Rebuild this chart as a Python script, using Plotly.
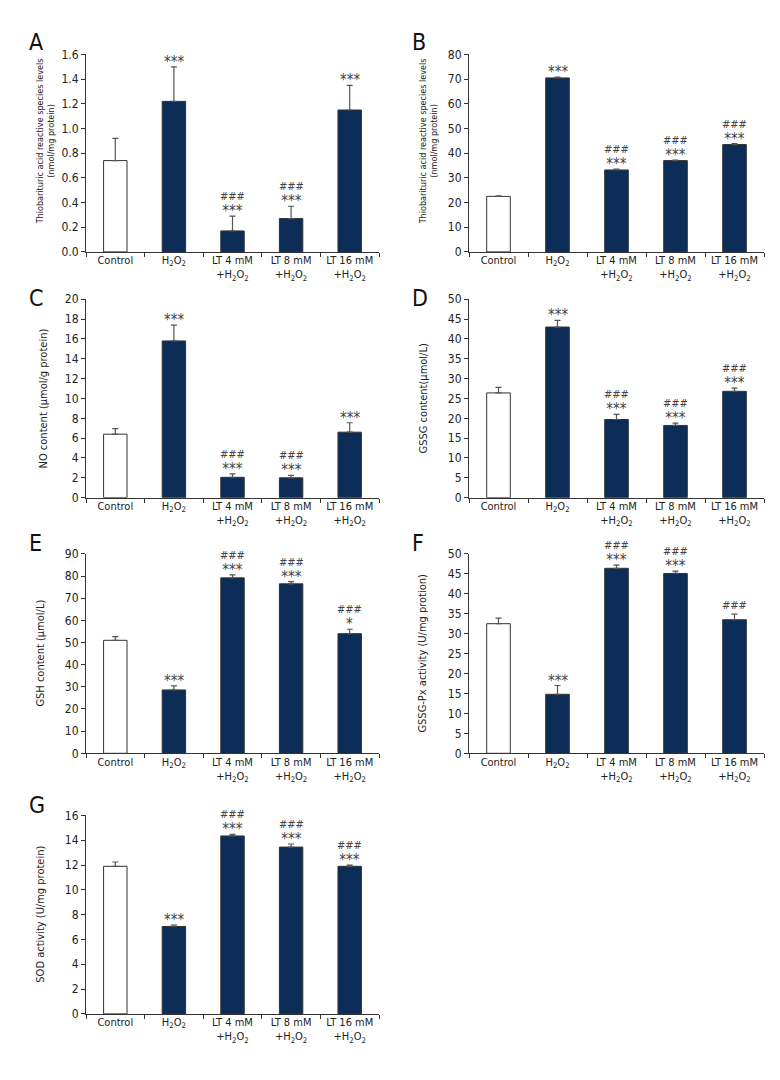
import plotly.graph_objects as go

# groups on the x axis
groups = ["Control", "H<sub>2</sub>O<sub>2</sub>", "LT 4 mM<br>+H<sub>2</sub>O<sub>2</sub>",
          "LT 8 mM<br>+H<sub>2</sub>O<sub>2</sub>", "LT 16 mM<br>+H<sub>2</sub>O<sub>2</sub>"]

# panel A - TBARS (nmol/mg protein)
tbars_a = [0.74, 1.22, 0.17, 0.27, 1.15]
tbars_a_err = [0.18, 0.28, 0.12, 0.10, 0.20]
tbars_a_star = ["", "***", "***", "***", "***"]
tbars_a_hash = ["", "", "###", "###", ""]

# panel B - TBARS second set
tbars_b = [22.5, 70.5, 33.2, 37.0, 43.5]
tbars_b_err = [0.2, 0.3, 0.3, 0.2, 0.4]
tbars_b_star = ["", "***", "***", "***", "***"]
tbars_b_hash = ["", "", "###", "###", "###"]

# panel C - NO content
no_val = [6.4, 15.8, 2.05, 2.0, 6.6]
no_err = [0.55, 1.6, 0.35, 0.25, 0.95]
no_star = ["", "***", "***", "***", "***"]
no_hash = ["", "", "###", "###", ""]

# panel D - GSSG content
gssg = [26.4, 43.0, 19.7, 18.2, 26.8]
gssg_err = [1.4, 1.7, 1.3, 0.6, 0.8]
gssg_star = ["", "***", "***", "***", "***"]
gssg_hash = ["", "", "###", "###", "###"]

# panel E - GSH content
gsh = [51.0, 28.6, 79.2, 76.5, 54.0]
gsh_err = [1.7, 1.8, 1.3, 1.0, 2.0]
gsh_star = ["", "***", "***", "***", "*"]
gsh_hash = ["", "", "###", "###", "###"]

# panel F - GSSG-Px activity
gpx = [32.5, 14.8, 46.4, 45.1, 33.5]
gpx_err = [1.4, 2.2, 0.8, 0.6, 1.4]
gpx_star = ["", "***", "***", "***", ""]
gpx_hash = ["", "", "###", "###", "###"]

# panel G - SOD activity
sod = [11.9, 7.05, 14.35, 13.45, 11.9]
sod_err = [0.35, 0.12, 0.12, 0.25, 0.1]
sod_star = ["", "***", "***", "***", "***"]
sod_hash = ["", "", "###", "###", "###"]

tbars_title = "Thiobarituric acid reactive species levels<br>(nmol/mg protein)"
panels = [
    ("A", tbars_a, tbars_a_err, tbars_a_star, tbars_a_hash, 1.6, 0.2, ".1f", tbars_title),
    ("B", tbars_b, tbars_b_err, tbars_b_star, tbars_b_hash, 80, 10, "d", tbars_title),
    ("C", no_val, no_err, no_star, no_hash, 20, 2, "d", "NO content (µmol/g protein)"),
    ("D", gssg, gssg_err, gssg_star, gssg_hash, 50, 5, "d", "GSSG content(µmol/L)"),
    ("E", gsh, gsh_err, gsh_star, gsh_hash, 90, 10, "d", "GSH content (µmol/L)"),
    ("F", gpx, gpx_err, gpx_star, gpx_hash, 50, 5, "d", "GSSG-Px activity (U/mg protion)"),
    ("G", sod, sod_err, sod_star, sod_hash, 16, 2, "d", "SOD activity (U/mg protein)"),
]

W, H = 780, 1080
# plot-area pixel boxes (left, right, top, bottom)
col_x = [(78, 371), (461, 756)]
row_y = [(40, 240), (288, 489), (546, 748), (811, 1012)]
letter_y = [27, 287, 535, 800]
letter_x = [19, 402]
title_x = [[38, 421], [35, 415], [33, 415], [33, 415]]

NAVY = "#0b2d57"
FONT = "DejaVu Sans Condensed, Liberation Sans Narrow, Roboto, sans-serif"
STAR = "<span style='font-size:15px'>{}</span>"
HASH = "<span style='font-size:11px'>{}</span>"

fig = go.Figure()
layout = {}
annotations = []

for i, (letter, vals, errs, stars, hashes, ymax, dtick, fmt, ytitle) in enumerate(panels):
    r, c = divmod(i, 2)
    n = i + 1
    xa = "x" if n == 1 else f"x{n}"
    ya = "y" if n == 1 else f"y{n}"
    x0, x1 = col_x[c]
    top, bot = row_y[r]

    colors = ["white"] + [NAVY] * 4
    fig.add_trace(go.Bar(
        x=groups, y=vals, xaxis=xa, yaxis=ya, width=0.4,
        marker=dict(color=colors, line=dict(color="#333333", width=1)),
        error_y=dict(type="data", array=errs, arrayminus=[0] * 5, symmetric=False,
                     color="#555555", thickness=1.2, width=3),
        showlegend=False,
    ))

    layout["xaxis" if n == 1 else f"xaxis{n}"] = dict(
        domain=[x0 / W, x1 / W], anchor=ya, type="category",
        range=[-0.5, 4.5], tickson="boundaries", ticks="outside", ticklen=4,
        tickcolor="#333", showline=True, linecolor="#333", linewidth=1,
        showgrid=False, tickangle=0, ticklabelstandoff=-2,
        tickfont=dict(size=11, color="#222"),
    )
    layout["yaxis" if n == 1 else f"yaxis{n}"] = dict(
        domain=[1 - bot / H, 1 - top / H], anchor=xa,
        range=[0, ymax], dtick=dtick, tickformat=fmt, ticks="outside", ticklen=4,
        tickcolor="#333", showline=True, linecolor="#333", linewidth=1,
        showgrid=False, zeroline=False, tickfont=dict(size=12, color="#222"),
    )

    # significance marks above the error bars (one text per bar)
    for g, v, e, s, h in zip(groups, vals, errs, stars, hashes):
        lines = []
        if h:
            lines.append(HASH.format(h))
        if s:
            lines.append(STAR.format(s))
        if not lines:
            continue
        annotations.append(dict(
            x=g, y=v + e, xref=xa, yref=ya, text="<br>".join(lines), showarrow=False,
            yanchor="bottom", yshift=-6 if s else 0, font=dict(size=12, color="#444"),
        ))

    # y-axis title
    two_line = "<br>" in ytitle
    annotations.append(dict(
        x=title_x[r][c] / W, y=1 - ((top + bot) / 2 - (12 if two_line else 0)) / H,
        xref="paper", yref="paper", text=ytitle, textangle=-90, showarrow=False,
        xanchor="center", yanchor="middle",
        font=dict(size=9 if two_line else 11, color="#222"),
    ))

    # panel letter
    annotations.append(dict(
        x=letter_x[c] / W, y=1 - letter_y[r] / H, xref="paper", yref="paper",
        text=letter, showarrow=False, xanchor="left", yanchor="middle",
        font=dict(size=23, color="#111"),
    ))

fig.update_layout(
    width=W, height=H, margin=dict(l=0, r=0, t=0, b=0),
    paper_bgcolor="white", plot_bgcolor="white", bargap=0.6,
    font=dict(family=FONT, color="#222"),
    annotations=annotations, **layout,
)

fig.write_html("out.html")
